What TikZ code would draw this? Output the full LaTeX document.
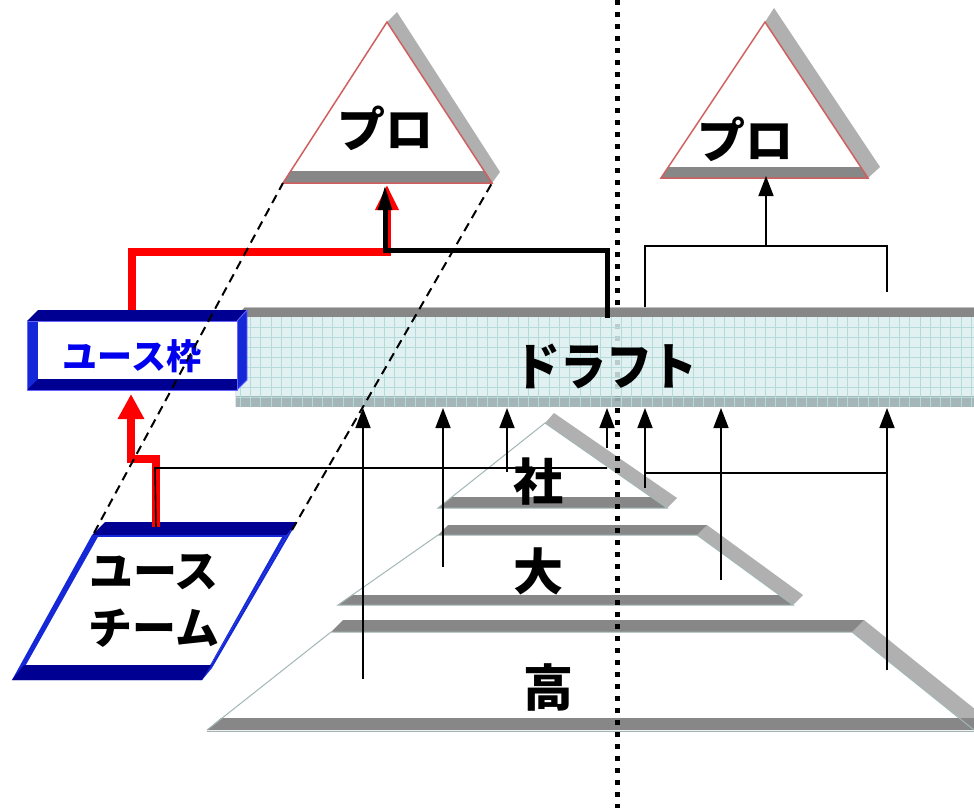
\documentclass[tikz,border=0pt]{standalone}
\usepackage{fontspec}
\newfontfamily\cjk{Noto Sans CJK JP}
\usetikzlibrary{arrows.meta}
\definecolor{facedark}{HTML}{878787}
\definecolor{facelight}{HTML}{B0B0B0}
\definecolor{edgegray}{HTML}{A2B6B6}
\definecolor{draftfill}{HTML}{DCEFF0}
\definecolor{gridcol}{HTML}{B4DADA}
\definecolor{draftbot}{HTML}{9DB0B2}
\definecolor{navyc}{HTML}{000092}
\definecolor{bluec}{HTML}{1428D8}
\definecolor{textblue}{HTML}{0000EE}
\definecolor{redc}{HTML}{FF0000}
\definecolor{trired}{HTML}{D06060}
\begin{document}
\begin{tikzpicture}[x=1pt,y=-1pt,
  bigtxt/.style={font=\cjk\bfseries\fontsize{48}{52}\selectfont, inner sep=0pt},
  midtxt/.style={font=\cjk\bfseries\fontsize{44}{48}\selectfont, inner sep=0pt},
  thinarrow/.style={black, line width=1.6pt, -{Triangle[width=15pt,length=20pt]}},
  thinline/.style={black, line width=1.6pt},
  redpath/.style={redc, line width=8pt, line join=miter},
  dashline/.style={black, line width=2pt, dash pattern=on 9pt off 6pt},
  edge/.style={edgegray, line width=1pt}]
\useasboundingbox (0,0) rectangle (974,808);
\fill[white] (0,0) rectangle (974,808);

% ---------- triangle 1 ----------
\fill[facelight] (387,22) -- (397,12) -- (500,172) -- (492,183) -- cycle;
\fill[white] (283,183) -- (387,22) -- (492,183) -- cycle;
\fill[facedark] (283,183) -- (291,171) -- (485,171) -- (492,183) -- cycle;
\draw[trired, line width=1.5pt] (283,183) -- (387,22) -- (492,183) -- cycle;
\node[bigtxt] (pro1) at (385,128) {プロ};

% ---------- triangle 2 ----------
\fill[facelight] (765,22) -- (774,8) -- (880,167) -- (868,178) -- cycle;
\fill[white] (661,178) -- (765,22) -- (868,178) -- cycle;
\fill[facedark] (661,178) -- (668,167) -- (861,167) -- (868,178) -- cycle;
\draw[trired, line width=1.5pt] (661,178) -- (765,22) -- (868,178) -- cycle;
\node[bigtxt] (pro2) at (745,139) {プロ};

% ---------- pyramid: 高 ----------
\fill[facelight] (852,632) -- (864,620) -- (986,718) -- (974,730) -- cycle;
\fill[white] (207,730) -- (331,632) -- (852,632) -- (974,730) -- cycle;
\fill[facedark] (331,632) -- (343,620) -- (864,620) -- (852,632) -- cycle;
\fill[facedark] (207,730) -- (221,718) -- (974,718) -- (974,730) -- cycle;
\draw[edge] (207,730) -- (331,632) -- (852,632) -- (974,730);
\draw[edge] (207,731) -- (974,731);
\node[bigtxt, font=\cjk\bfseries\fontsize{50}{54}\selectfont] (kou) at (548,687) {高};

% ---------- pyramid: 大 ----------
\fill[facelight] (697,535) -- (707,525) -- (803,595) -- (793,605) -- cycle;
\fill[white] (338,605) -- (438,535) -- (697,535) -- (793,605) -- cycle;
\fill[facedark] (438,535) -- (448,525) -- (707,525) -- (697,535) -- cycle;
\fill[facedark] (338,605) -- (352,595) -- (779,595) -- (793,605) -- cycle;
\draw[edge] (338,605) -- (438,535) -- (697,535) -- (793,605) -- cycle;
\node[bigtxt, font=\cjk\bfseries\fontsize{50}{54}\selectfont] (dai) at (538,571) {大};

% ---------- pyramid: 社 ----------
\fill[white] (438,508) -- (545,423) -- (667,508) -- cycle;
\fill[facedark] (438,508) -- (452,497) -- (651,497) -- (667,508) -- cycle;
\fill[facelight] (545,423) -- (554,413) -- (677,498) -- (667,508) -- cycle;
\draw[edge] (438,508) -- (545,423) -- (667,508) -- cycle;
\node[bigtxt, font=\cjk\bfseries\fontsize{50}{54}\selectfont] (sha) at (538,482) {社};

% ---------- coordinates for connectors ----------
\coordinate (dA) at (363,408); \coordinate (sA) at (363,679);
\coordinate (dB) at (443,408); \coordinate (sB) at (443,567);
\coordinate (dC) at (507,408); \coordinate (sC) at (507,472);
\coordinate (dD) at (607,408); \coordinate (sD) at (607,448);
\coordinate (dE) at (645,408); \coordinate (sE) at (645,488);
\coordinate (dF) at (721,408); \coordinate (sF) at (721,580);
\coordinate (dG) at (887,408); \coordinate (sG) at (887,670);
\coordinate (hE) at (645,473); \coordinate (hG) at (887,473);

\draw[thinarrow] (sA) -- (dA);
\draw[thinarrow] (sB) -- (dB);
\draw[thinarrow] (sC) -- (dC);
\draw[thinarrow] (sD) -- (dD);
\draw[thinarrow] (sE) -- (dE);
\draw[thinarrow] (sF) -- (dF);
\draw[thinarrow] (sG) -- (dG);
\draw[thinline] (hE) -- (hG);

% right triangle connectors
\coordinate (r1) at (645,308); \coordinate (r2) at (887,292);
\coordinate (rm) at (766,246); \coordinate (rt) at (766,176);
\draw[thinline] (r1) |- (rm) -| (r2);
\draw[thinarrow] (rm) -- (rt);

% ---------- dotted divider ----------
\coordinate (dv1) at (617,0); \coordinate (dv2) at (617,808);
\draw[black, line width=5pt, dash pattern=on 5pt off 7pt] (dv1) -- (dv2);

% ---------- draft bar ----------
\fill[facedark] (235,317) -- (245,307) -- (974,307) -- (974,317) -- cycle;
\draw[black!25, line width=0.8pt] (245,307) -- (974,307);
\fill[draftfill, fill opacity=0.85] (235,317) rectangle (974,396);
\fill[draftbot, fill opacity=0.92] (235,396) rectangle (974,407);
\begin{scope}
\clip (235,317) rectangle (974,407);
\foreach \gx in {240,250.3,...,974} \draw[gridcol, line width=0.6pt] (\gx,317) -- (\gx,407);
\foreach \gy in {327,337,...,405} \draw[gridcol, line width=0.6pt] (235,\gy) -- (974,\gy);
\end{scope}
\draw[white!80!gray, line width=0.8pt] (235,317) -- (235,407);
\node[inner sep=0pt, font=\cjk\bfseries\fontsize{51}{55}\selectfont] (draft) at (606,366) {\scalebox{0.9}[1]{ドラフト}};

% ---------- red / black thick path to triangle 1 ----------
\coordinate (u1) at (132,316); \coordinate (u2) at (132,252);
\coordinate (p1) at (387,252); \coordinate (p1t) at (387,185);
\draw[redpath, -{Triangle[width=22pt,length=25pt]}] (u1) -- (u2) -- (p1) -- (p1t);
\coordinate (k1) at (607,318); \coordinate (k2) at (607,250);
\coordinate (k3) at (385,250); \coordinate (k4) at (385,185);
\draw[black, line width=5pt, line join=miter, -{Triangle[width=13pt,length=25pt]}] (k1) -- (k2) -- (k3) -- (k4);

% ---------- ユース枠 box ----------
\fill[navyc] (27,321) -- (38,310) -- (247,310) -- (237,321) -- cycle;
\fill[bluec] (237,321) -- (247,310) -- (247,380) -- (237,390) -- cycle;
\fill[bluec] (27,321) rectangle (38,390);
\fill[navyc] (27,390) -- (38,379) -- (237,379) -- (237,390) -- cycle;
\fill[white] (38,321) rectangle (237,379);
\draw[blue!60!white, line width=0.8pt] (27,321) -- (237,321) -- (237,390) -- (27,390) -- cycle;
\draw[blue!60!white, line width=0.8pt] (237,321) -- (247,310) -- (247,380) -- (237,390);
\node[inner sep=0pt, text=textblue, font=\cjk\bfseries\fontsize{35}{39}\selectfont] (usewaku) at (132,356) {ユース枠};

% ---------- ユースチーム parallelogram ----------
\fill[navyc] (92,535) -- (105,522) -- (297,522) -- (287,535) -- cycle;
\fill[bluec] (287,535) -- (297,522) -- (212,668) -- (202,680) -- cycle;
\fill[bluec] (92,535) -- (287,535) -- (202,680) -- (12,680) -- cycle;
\fill[white] (98,537) -- (282,537) -- (210,665) -- (26,665) -- cycle;
\fill[navyc] (12,680) -- (24,665) -- (211,665) -- (202,680) -- cycle;
\node[midtxt] (useteam1) at (154,572) {ユース};
\node[midtxt] (useteam2) at (154,628) {チーム};

% ---------- red arrow from team to ユース枠 ----------
\coordinate (t1) at (156,527); \coordinate (t2) at (156,459);
\coordinate (t3) at (131,459); \coordinate (t4) at (131,394);
\draw[redpath, -{Triangle[width=25pt,length=25pt]}] (t1) -- (t2) -- (t3) -- (t4);
\coordinate (hL) at (155,468); \coordinate (hR) at (607,468);
\draw[thinline] (t1) -- (hL) -- (hR);

% ---------- dashed projection lines ----------
\coordinate (q1) at (94,533); \coordinate (q2) at (283,183);
\coordinate (q3) at (292,530); \coordinate (q4) at (492,183);
\draw[dashline] (q1) -- (q2);
\draw[dashline] (q3) -- (q4);
\end{tikzpicture}
\end{document}
